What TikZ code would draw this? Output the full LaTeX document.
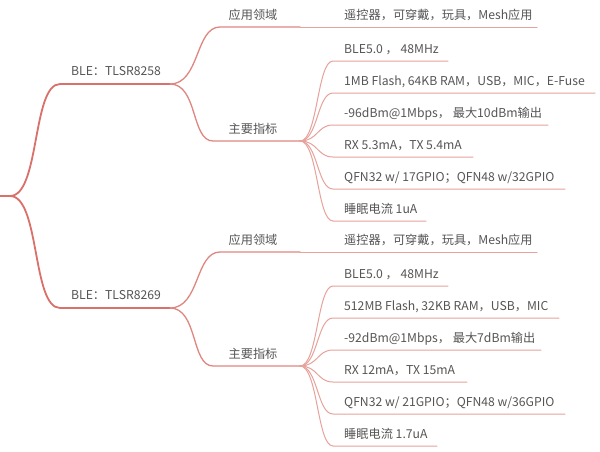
\documentclass[tikz,border=0pt]{standalone}
\usepackage{fontspec}
\setmainfont{Noto Sans CJK SC}
\definecolor{thick}{HTML}{D9716A}
\definecolor{thin}{HTML}{E6A39C}
\definecolor{txt}{HTML}{555555}
\begin{document}
\begin{tikzpicture}[x=1pt,y=-1pt,
  br/.style={draw=thick,line width=1.8pt},
  sub/.style={draw=thick!85!white,line width=1.3pt},
  leafl/.style={draw=thin,line width=1pt},
  lbl/.style={text=txt,font=\fontsize{12.2}{14}\selectfont,inner sep=0pt},
  every path/.style={line cap=round}]
\useasboundingbox[fill=white] (0,0) rectangle (600,451);

% root
\coordinate (root) at (0,196);
\coordinate (rootj) at (10,196);
\draw[br] (root) -- (rootj);

\foreach \n/\y/\name/\ay/\by in {A/84/TLSR8258/27/141, B/308/TLSR8269/252/366}{
  \coordinate (\n s) at (60,\y);
  \coordinate (\n e) at (170,\y);
  \draw[br] (rootj) .. controls +(30,0) and +(-28,0) .. (\n s) -- (\n e);
  \node[lbl,anchor=base] (\n lab) at (116,\y-9) {BLE：\name};
  % application
  \coordinate (\n 1s) at (220,\ay);
  \coordinate (\n 1e) at (300,\ay);
  \draw[sub] (\n e) .. controls +(30,0) and +(-25,0) .. (\n 1s) -- (\n 1e);
  \node[lbl,anchor=base] (\n 1lab) at (253,\ay-8) {应用领域};
  % main indicators
  \coordinate (\n 2s) at (213,\by);
  \coordinate (\n 2e) at (300,\by);
  \draw[sub] (\n e) .. controls +(28,0) and +(-22,0) .. (\n 2s) -- (\n 2e);
  \node[lbl,anchor=base] (\n 2lab) at (253,\by-8) {主要指标};
}

% application leaves
\coordinate (A0e) at (537,27);
\draw[leafl] (A1e) -- (A0e);
\node[lbl,anchor=base west] (A0) at (344,19) {遥控器，可穿戴，玩具，Mesh应用};
\coordinate (B0e) at (537,252);
\draw[leafl] (B1e) -- (B0e);
\node[lbl,anchor=base west] (B0) at (344,244) {遥控器，可穿戴，玩具，Mesh应用};

% indicator leaves
\foreach \n/\y/\x/\t in {
  A/61/448/{BLE5.0 ，  48MHz},
  A/93/595/{1MB Flash, 64KB RAM，USB，MIC，E-Fuse},
  A/125/548/{-96dBm@1Mbps，  最大10dBm输出},
  A/157/473/{RX 5.3mA，TX 5.4mA},
  A/189/565/{QFN32 w/ 17GPIO；QFN48 w/32GPIO},
  A/221/426/{睡眠电流 1uA},
  B/286/448/{BLE5.0 ，  48MHz},
  B/318/559/{512MB Flash, 32KB RAM，USB，MIC},
  B/350/541/{-92dBm@1Mbps，  最大7dBm输出},
  B/382/467/{RX 12mA，TX 15mA},
  B/414/565/{QFN32 w/ 21GPIO；QFN48 w/36GPIO},
  B/446/437/{睡眠电流 1.7uA}}{
  \coordinate (L\y s) at (333,\y);
  \coordinate (L\y e) at (\x,\y);
  \draw[leafl] (\n 2e) .. controls +(18,0) and +(-16,0) .. (L\y s) -- (L\y e);
  \node[lbl,anchor=base west] (L\y t) at (344,\y-8) {\t};
}
\end{tikzpicture}
\end{document}
